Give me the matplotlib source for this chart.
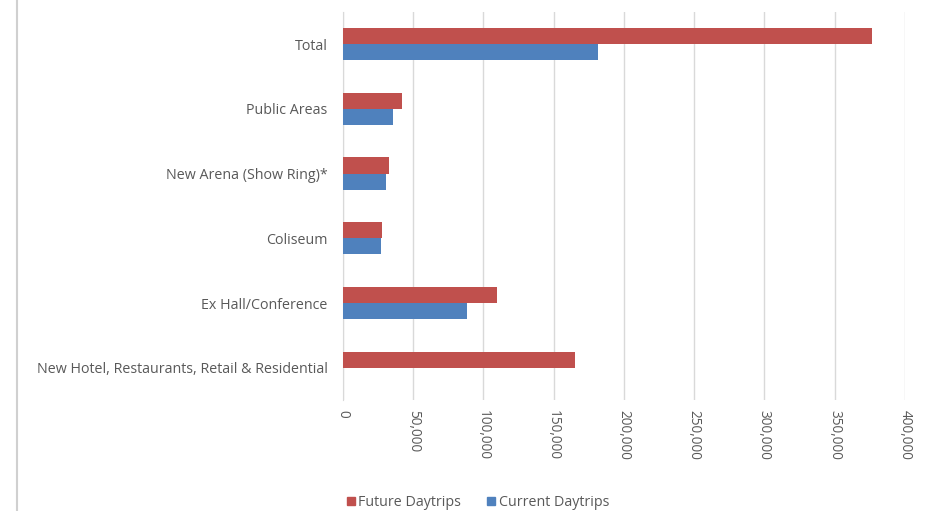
import matplotlib
matplotlib.use("Agg")
import matplotlib.pyplot as plt
from matplotlib.lines import Line2D
import numpy as np

categories = ["New Hotel, Restaurants, Retail & Residential", "Ex Hall/Conference",
              "Coliseum", "New Arena (Show Ring)*", "Public Areas", "Total"]
future = [165000, 109500, 27500, 33000, 42000, 376500]
current = [0, 88000, 27000, 30500, 35500, 181500]
xticks = [0, 50000, 100000, 150000, 200000, 250000, 300000, 350000, 400000]

red = "#C0504D"
blue = "#4F81BD"
txt = "#595959"

plt.rcParams['font.family'] = ['Open Sans', 'DejaVu Sans']

fig = plt.figure(figsize=(9.27, 5.11), dpi=100)
ax = fig.add_axes([0.370, 0.217, 0.606, 0.760])

y = np.arange(len(categories))
h = 0.25
ax.barh(y + h/2, future, height=h, color=red, label="Future Daytrips", zorder=3)
ax.barh(y - h/2, current, height=h, color=blue, label="Current Daytrips", zorder=3)

ax.set_ylim(-0.5, len(categories) - 0.5)
ax.set_xlim(0, 400000)
ax.set_yticks(y)
ax.set_yticklabels(categories, fontsize=10.3, color=txt)
ax.set_xticks(xticks)
ax.set_xticklabels([f"{v:,}" for v in xticks], rotation=-90, fontsize=9.8, color=txt)
ax.tick_params(axis='y', length=0, pad=11)
ax.tick_params(axis='x', length=0, pad=7)
ax.grid(axis='x', color='#D9D9D9', linewidth=1, zorder=0)
for s in ['top', 'right', 'bottom']:
    ax.spines[s].set_visible(False)
ax.spines['left'].set_color('#D9D9D9')

handles = [Line2D([], [], marker='s', linestyle='', color=red, markersize=6),
           Line2D([], [], marker='s', linestyle='', color=blue, markersize=6)]
leg = fig.legend(handles, ["Future Daytrips", "Current Daytrips"], loc='center',
                 bbox_to_anchor=(0.514, 0.017), ncol=2, frameon=False, fontsize=10.3,
                 handletextpad=0.05, columnspacing=1.6, handlelength=1.0)
for t in leg.get_texts():
    t.set_color(txt)

fig.add_artist(Line2D([0.018, 0.018], [0, 1], transform=fig.transFigure, color='#D0D0D0', linewidth=1.5))

fig.savefig("out.png", dpi=100, facecolor='white')
